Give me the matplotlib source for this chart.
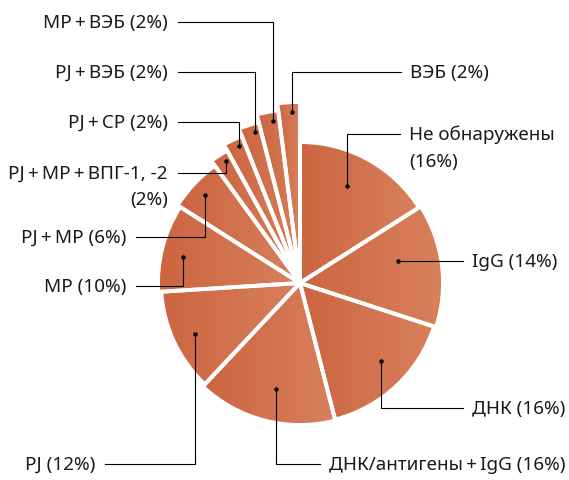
import numpy as np
import matplotlib
matplotlib.use('Agg')
import matplotlib.pyplot as plt
from matplotlib.patches import Wedge
from matplotlib.colors import LinearSegmentedColormap

# данные (по часовой стрелке, начиная с 12 часов)
labels = ['Не обнаружены\n(16%)', 'IgG (14%)', 'ДНК (16%)',
          'ДНК/антигены\u2009+\u2009IgG (16%)', 'PJ (12%)', 'MP (10%)',
          'PJ\u2009+\u2009MP (6%)', 'PJ\u2009+\u2009MP\u2009+\u2009ВПГ-1, -2\n(2%)',
          'PJ\u2009+\u2009CP (2%)', 'PJ\u2009+\u2009ВЭБ (2%)',
          'MP\u2009+\u2009ВЭБ (2%)', 'ВЭБ (2%)']
shares = [16, 14, 16, 16, 12, 10, 6, 2, 2, 2, 2, 2]
# радиус каждого сектора (в пикселях картинки)
radii = [141, 143, 141, 142, 139, 142, 145, 151, 158, 166, 174, 181]

# раскладка подписей: положение точки в секторе и куда идёт выноска
anchor_frac = [0.45, 0.39, 0.45, 0.47, 0.48, 0.45, 0.48, 0.67, 0.67, 0.69, 0.68, 0.62]
anchor_r = [108, 100, 112, 109, 117, 120, 129, 143, 150, 158, 164, 171]
text_y = [134, 261, 408, 464, 464, 286, 236.5, 173, 122, 72, 22, 72]
line_end = [400, 463, 463, 320, 105, 136, 136, 178, 178, 178, 178, 401]

W, H = 569, 480
cx, cy = 300, 283
c_left, c_right = '#cc6540', '#d8805d'
cmap = LinearSegmentedColormap.from_list('grad', [c_left, c_right])
grad = np.linspace(0, 1, 256).reshape(1, -1)

plt.rcParams['font.family'] = ['Noto Sans', 'DejaVu Sans']

fig = plt.figure(figsize=(W / 100, H / 100), dpi=100)
ax = fig.add_axes([0, 0, 1, 1])
ax.axis('off')

start = 90.0
for i, share in enumerate(shares):
    span = share * 3.6
    a1, a2 = start, start - span   # экранные углы, идём по часовой
    w = Wedge((cx, cy), radii[i], -a1, -a2, facecolor='none', edgecolor='none')
    ax.add_patch(w)
    x0, y0, x1, y1 = w.get_path().get_extents().extents
    im = ax.imshow(grad, cmap=cmap, extent=(x0, x1, y1, y0), aspect='auto',
                   interpolation='bilinear', zorder=1)
    im.set_clip_path(w)
    ax.add_patch(Wedge((cx, cy), radii[i], -a1, -a2, facecolor='none',
                       edgecolor='white', lw=2.8, zorder=2))

    # выноска
    phi = np.radians(a1 - anchor_frac[i] * span)
    px = cx + anchor_r[i] * np.cos(phi)
    py = cy - anchor_r[i] * np.sin(phi)
    ty = text_y[i]
    ax.plot([px, px, line_end[i]], [py, ty, ty], color='black', lw=0.8, zorder=3)
    ax.plot(px, py, 'o', color='black', ms=2.2, zorder=4)

    right = line_end[i] > px
    tx = line_end[i] + 9 if right else line_end[i] - 10
    for k, part in enumerate(labels[i].split('\n')):
        ax.text(tx, ty + 1 + k * 26.5, part, ha='left' if right else 'right',
                va='center', fontsize=13.6, color='#1a1a1a')
    start = a2

ax.set_xlim(0, W)
ax.set_ylim(H, 0)
plt.savefig('out.png', dpi=100)
